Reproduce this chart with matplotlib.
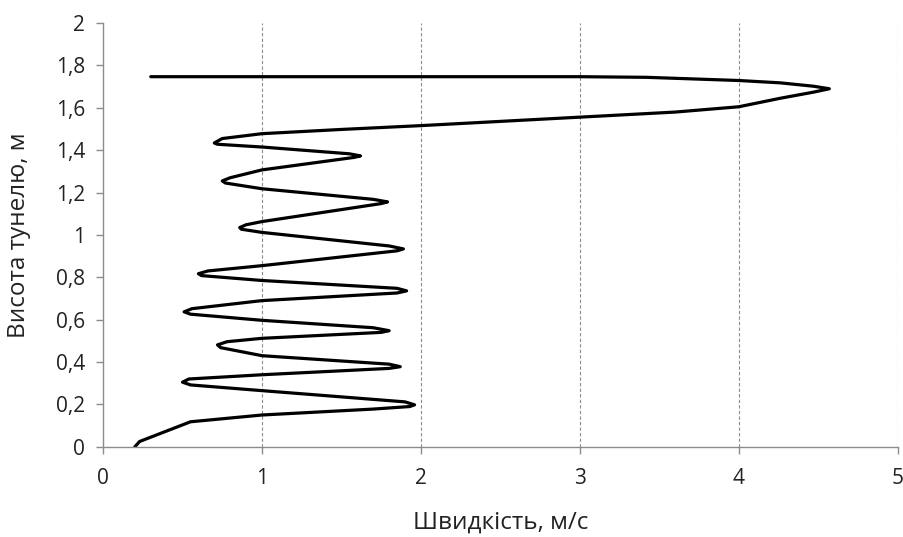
import matplotlib
matplotlib.use("Agg")
import matplotlib.pyplot as plt

plt.rcParams['font.family'] = ['Open Sans', 'DejaVu Sans']

# Профіль швидкості по висоті тунелю
speed = [0.20, 0.23, 0.55, 1.00, 1.70, 1.93, 1.96, 1.90, 1.00, 0.55, 0.50, 0.54,
         1.00, 1.80, 1.87, 1.80, 1.00, 0.74, 0.72, 0.78, 1.00, 1.75, 1.80, 1.70,
         1.00, 0.55, 0.51, 0.56, 1.00, 1.85, 1.91, 1.85, 1.00, 0.62, 0.60, 0.66,
         1.00, 1.85, 1.89, 1.80, 1.00, 0.87, 0.86, 0.90, 1.00, 1.75, 1.79, 1.70,
         1.00, 0.77, 0.75, 0.80, 1.00, 1.58, 1.62, 1.55, 1.00, 0.72, 0.70, 0.75,
         1.00, 1.50, 2.00, 3.00, 3.60, 4.00, 4.26, 4.47, 4.57, 4.47, 4.26, 4.00,
         3.42, 3.00, 0.30]
height = [0.000, 0.025, 0.118, 0.150, 0.178, 0.190, 0.198, 0.212, 0.265, 0.292, 0.305, 0.320,
          0.340, 0.370, 0.378, 0.390, 0.430, 0.468, 0.481, 0.496, 0.512, 0.540, 0.548, 0.562,
          0.597, 0.626, 0.637, 0.652, 0.690, 0.726, 0.736, 0.748, 0.785, 0.808, 0.817, 0.830,
          0.855, 0.925, 0.934, 0.948, 1.012, 1.027, 1.035, 1.048, 1.063, 1.148, 1.156, 1.168,
          1.218, 1.245, 1.255, 1.270, 1.307, 1.366, 1.373, 1.383, 1.415, 1.428, 1.434, 1.455,
          1.478, 1.498, 1.516, 1.556, 1.580, 1.605, 1.645, 1.674, 1.690, 1.702, 1.718, 1.729,
          1.744, 1.747, 1.747]

x_ticks = [0, 1, 2, 3, 4, 5]
y_ticks = [0, 0.2, 0.4, 0.6, 0.8, 1.0, 1.2, 1.4, 1.6, 1.8, 2.0]
y_labels = ['0', '0,2', '0,4', '0,6', '0,8', '1', '1,2', '1,4', '1,6', '1,8', '2']

fig = plt.figure(figsize=(9.04, 5.37), dpi=100)
ax = fig.add_axes([0.114, 0.168, 0.879, 0.789])

ax.plot(speed, height, color='black', lw=2.3, solid_joinstyle='round', solid_capstyle='round')

ax.set_xlim(0, 5)
ax.set_ylim(0, 2)
ax.set_xticks(x_ticks)
ax.set_yticks(y_ticks)
ax.set_yticklabels(y_labels)

for xv in x_ticks[1:]:
    ax.axvline(xv, color='#8c8c8c', lw=0.8, ls=(0, (3, 2)), zorder=0)

for side in ['top', 'right']:
    ax.spines[side].set_visible(False)
for side in ['left', 'bottom']:
    ax.spines[side].set_color('#8c8c8c')
    ax.spines[side].set_linewidth(1.0)

ax.tick_params(axis='both', colors='#8c8c8c', labelcolor='#222222', labelsize=15,
               length=5, width=1.0, direction='out')
ax.tick_params(axis='x', pad=10)
ax.tick_params(axis='y', pad=8)

ax.set_xlabel('Швидкість, м/с', fontsize=17.5, color='#222222', labelpad=16)
ax.set_ylabel('Висота тунелю, м', fontsize=17.5, color='#222222', labelpad=18)

fig.savefig('out.png', dpi=100)
